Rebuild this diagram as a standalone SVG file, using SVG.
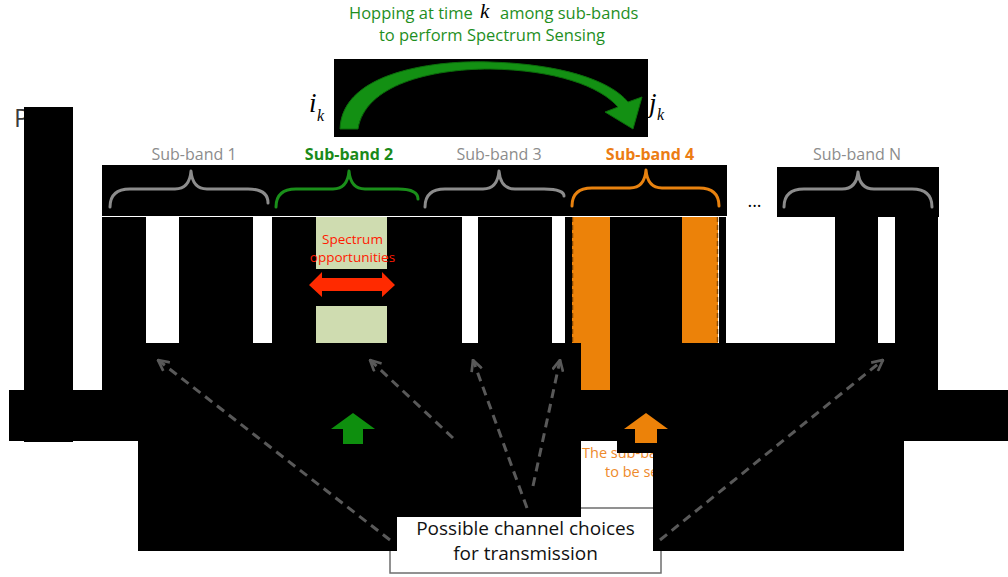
<svg xmlns="http://www.w3.org/2000/svg" width="1008" height="577" viewBox="0 0 1008 577">
  <style>
    .blk { fill: #000000; }
    .lbl { font-family: "Open Sans", "Liberation Sans", sans-serif; font-size: 16px; text-anchor: middle; }
    .grey { fill: #8c8c8c; }
    .math { font-family: "Liberation Serif", "DejaVu Serif", serif; font-style: italic; fill: #000000; }
    .brace { fill: none; stroke-width: 3; stroke-linecap: round; stroke-linejoin: round; }
    .conn { fill: none; stroke: #595959; stroke-width: 3; stroke-dasharray: 9 6; }
    .edge { stroke: #8a4a00; stroke-width: 1.5; stroke-dasharray: 5 3; }
  </style>
  <defs>
    <marker id="open-head" viewBox="0 0 12 12" refX="11" refY="6" markerWidth="13" markerHeight="13" markerUnits="userSpaceOnUse" orient="auto">
      <path d="M1,1 L11,6 L1,11" fill="none" stroke="#595959" stroke-width="2.5"/>
    </marker>
  </defs>

  <rect width="1008" height="577" fill="#ffffff"/>

  <!-- axis letter, partly hidden -->
  <text x="14" y="127" font-family="Open Sans, Liberation Sans, sans-serif" font-size="25" fill="#3a3a3a">P</text>

  <!-- caption box for the transmission choices -->
  <g id="choices-box">
    <rect x="390" y="508" width="271" height="65" fill="#ffffff" stroke="#6e6e6e" stroke-width="1.5"/>
    <text x="525.5" y="535" font-family="Open Sans, Liberation Sans, sans-serif" font-size="19" text-anchor="middle" fill="#111111">Possible channel choices</text>
    <text x="525.5" y="560" font-family="Open Sans, Liberation Sans, sans-serif" font-size="19" text-anchor="middle" fill="#111111">for transmission</text>
  </g>

  <!-- sub-band 4 occupancy (orange) -->
  <g id="band4-bars">
    <rect x="572" y="217" width="146" height="126" fill="#ec8209"/>
    <line class="edge" x1="572.5" y1="217" x2="572.5" y2="343"/>
    <line class="edge" x1="717.5" y1="217" x2="717.5" y2="343"/>
    <rect x="581" y="343" width="29" height="47" fill="#ec8209"/>
  </g>

  <!-- label for the sensed sub-band -->
  <g id="sensed-label" font-family="Open Sans, Liberation Sans, sans-serif" font-size="14.5" fill="#ee8a2c">
    <text x="582" y="458">The sub-ba</text>
    <text x="605" y="477">to be se</text>
  </g>

  <!-- dark panels -->
  <g id="dark-panels" class="blk">
    <rect x="24" y="107" width="49" height="335"/>
    <rect x="334" y="59" width="314" height="78"/>
    <rect x="102" y="165" width="625" height="51"/>
    <rect x="777" y="167" width="162" height="50"/>
    <!-- columns -->
    <rect x="102" y="217" width="44" height="126"/>
    <rect x="179" y="217" width="74" height="126"/>
    <rect x="272" y="217" width="44" height="126"/>
    <rect x="316" y="269" width="71" height="37"/>
    <rect x="387" y="217" width="75" height="126"/>
    <rect x="478" y="217" width="74" height="126"/>
    <rect x="565" y="217" width="7" height="126"/>
    <rect x="610" y="217" width="72" height="126"/>
    <rect x="719" y="217" width="7" height="126"/>
    <rect x="835" y="217" width="43" height="126"/>
    <rect x="895" y="217" width="43" height="173"/>
    <!-- lower strips -->
    <rect x="102" y="343" width="479" height="47"/>
    <rect x="610" y="343" width="328" height="47"/>
    <rect x="9" y="390" width="999" height="51"/>
    <rect x="138" y="441" width="443" height="76"/>
    <rect x="138" y="517" width="259" height="34"/>
    <rect x="617" y="441" width="36" height="12"/>
    <rect x="653" y="441" width="251" height="110"/>
  </g>

  <!-- sub-band 2 spectrum opportunities -->
  <g id="opportunities">
    <rect x="316" y="217" width="71" height="52" fill="#cfdcb0"/>
    <rect x="316" y="306" width="71" height="37" fill="#cfdcb0"/>
    <text x="352.5" y="244" font-family="Open Sans, Liberation Sans, sans-serif" font-size="13.5" text-anchor="middle" fill="#ff1a00">Spectrum</text>
    <text x="352.5" y="262" font-family="Open Sans, Liberation Sans, sans-serif" font-size="13.5" text-anchor="middle" fill="#ff1a00">opportunities</text>
    <path d="M309,285 L322,272 L322,278 L382,278 L382,272 L395,285 L382,297 L382,291 L322,291 L322,297 Z" fill="#ff2a00"/>
  </g>

  <!-- hopping note -->
  <g id="hopping-note" font-family="Open Sans, Liberation Sans, sans-serif" font-size="16.5" fill="#1f8f1f">
    <text x="349" y="18.5">Hopping at time</text>
    <text x="480" y="17.5" class="math" font-size="21">k</text>
    <text x="500" y="18.5">among sub-bands</text>
    <text x="492" y="40.5" text-anchor="middle">to perform Spectrum Sensing</text>
  </g>

  <!-- hop between sub-bands -->
  <g id="hop-arrow">
    <path d="M340,129 C342,70 440,60 490,62 C560,64 610,80 628,102 L642,97 L633,129 L605,112 L618,107 C600,86 555,70 490,69 C430,69 365,85 358,129 Z" fill="#139013" stroke="#0b6b0b" stroke-width="1"/>
    <text x="309" y="112" class="math" font-size="27">i</text>
    <text x="317" y="121" class="math" font-size="16">k</text>
    <text x="649" y="112" class="math" font-size="27">j</text>
    <text x="657" y="120" class="math" font-size="16">k</text>
  </g>

  <!-- sub-bands -->
  <g id="sub-band-1">
    <text x="194" y="160" class="lbl grey">Sub-band 1</text>
    <path class="brace" stroke="#8c8c8c" d="M110,207 C110,196 116,189 130,189 L175,189 C185,189 190,183 191,171 C192,183 197,189 207,189 L248,189 C262,189 268,194 268,203"/>
  </g>
  <g id="sub-band-2">
    <text x="349" y="160" class="lbl" font-weight="bold" fill="#1a8a1a">Sub-band 2</text>
    <path class="brace" stroke="#1a8f1a" d="M276,207 C276,196 282,189 296,189 L333,189 C343,189 348,183 349,171 C350,183 355,189 365,189 L398,189 C412,189 418,193 418,199"/>
  </g>
  <g id="sub-band-3">
    <text x="499" y="160" class="lbl grey">Sub-band 3</text>
    <path class="brace" stroke="#8c8c8c" d="M425,207 C425,196 431,189 445,189 L483,189 C493,189 498,183 499,171 C500,183 505,189 515,189 L544,189 C558,189 564,192 564,196"/>
  </g>
  <g id="sub-band-4">
    <text x="650" y="160" class="lbl" font-weight="bold" fill="#ec7d14">Sub-band 4</text>
    <path class="brace" stroke="#e8820f" d="M572,206 C572,195 578,188 592,188 L630,188 C640,188 645,182 646,170 C647,182 652,188 662,188 L699,188 C713,188 719,195 719,206"/>
  </g>
  <g id="ellipsis">
    <text x="754.5" y="207" font-family="Open Sans, Liberation Sans, sans-serif" font-size="18" text-anchor="middle" fill="#000000">...</text>
  </g>
  <g id="sub-band-n">
    <text x="857" y="160" class="lbl grey">Sub-band N</text>
    <path class="brace" stroke="#8c8c8c" d="M784,207 C784,196 790,189 804,189 L842,189 C852,189 857,183 858,172 C859,183 864,189 874,189 L912,189 C926,189 932,196 932,207"/>
  </g>

  <!-- block arrows marking sensed / chosen sub-bands -->
  <g id="band2-pointer">
    <path d="M353,413 L375,429 L363,429 L363,444 L343,444 L343,429 L331,429 Z" fill="#0e8f0e"/>
  </g>
  <g id="band4-pointer">
    <path d="M646,413 L668,429 L657,429 L657,443 L635,443 L635,429 L624,429 Z" fill="#ec8209"/>
  </g>

  <!-- connectors from the caption box to candidate channels -->
  <g id="connectors">
    <line class="conn" x1="390" y1="540" x2="158" y2="360" marker-end="url(#open-head)"/>
    <line class="conn" x1="453" y1="438" x2="370" y2="360" marker-end="url(#open-head)"/>
    <line class="conn" x1="527" y1="508" x2="473" y2="360" marker-end="url(#open-head)"/>
    <line class="conn" x1="533" y1="486" x2="560" y2="360" marker-end="url(#open-head)"/>
    <line class="conn" x1="660" y1="540" x2="883" y2="360" marker-end="url(#open-head)"/>
  </g>
</svg>
